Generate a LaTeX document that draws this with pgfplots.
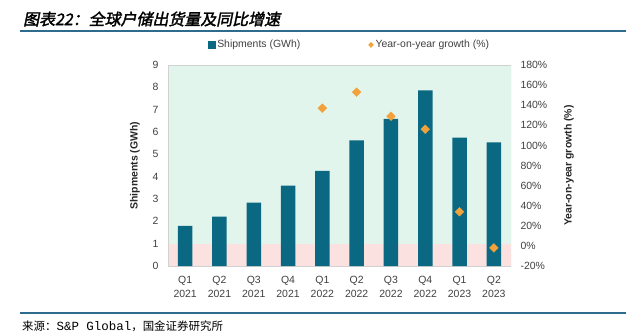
\documentclass[border=0pt]{standalone}
\usepackage{pgfplots}
\pgfplotsset{compat=1.18}
\usepackage{fontspec}
\setmainfont{Liberation Sans}
\newfontfamily\cjktitle[FakeSlant=0.2,FakeBold=2]{Noto Sans CJK SC}
\newfontfamily\cjk{Noto Sans CJK SC}
\newfontfamily\mono{Liberation Mono}
\definecolor{bar}{HTML}{0B6882}
\definecolor{dia}{HTML}{F2A23C}
\definecolor{bggreen}{HTML}{E2F5EC}
\definecolor{bgpink}{HTML}{FCE1E1}
\definecolor{rule}{HTML}{2F6A8F}
\definecolor{tick}{HTML}{404040}
\pgfplotstableread{
x ship
0 1.80
1 2.21
2 2.84
3 3.60
4 4.26
5 5.63
6 6.59
7 7.86
8 5.75
9 5.54
}\shiptable
\pgfplotstableread{
x yoy
4 137
5 153
6 129
7 116
8 34
9 -2
}\yoytable
\begin{document}
\begin{tikzpicture}[x=1bp,y=1bp]
\useasboundingbox (0,0) rectangle (626,335);
\node[anchor=west,inner sep=0] at (23,316) {\fontsize{16}{18}\selectfont\cjktitle 图表22：全球户储出货量及同比增速};
\draw[rule,line width=1.6bp] (20,304) -- (626,304);
\draw[rule,line width=1.6bp] (20,22) -- (626,22);
\node[anchor=west,inner sep=0] at (22,9) {\fontsize{11.5}{13}\selectfont\cjk 来源：{\mono\fontsize{12.5}{13}\selectfont S\&P Global}，国金证券研究所};
\begin{axis}[
  at={(168bp,69bp)}, anchor=south west,
  width=343bp, height=201bp, scale only axis,
  xmin=-0.5, xmax=9.5, ymin=0, ymax=9,
  axis y line*=left, axis x line*=bottom,
  axis line style={draw=none},
  xtick=data,
  xticklabels={{Q1\\2021},{Q2\\2021},{Q3\\2021},{Q4\\2021},{Q1\\2022},{Q2\\2022},{Q3\\2022},{Q4\\2022},{Q1\\2023},{Q2\\2023}},
  xticklabel style={align=center,font=\fontsize{10.5}{14}\selectfont,text=tick,yshift=-7bp},
  ytick={0,1,...,9},
  yticklabel style={font=\fontsize{10.5}{12}\selectfont,text=tick,xshift=-6bp},
  /pgf/number format/assume math mode=true,
  major tick length=0,
  ylabel={\bfseries Shipments (GWh)},
  ylabel style={font=\fontsize{10.5}{12}\selectfont,text=black!85},
  ylabel shift=6bp,
  bar width=14.5bp,
]
\fill[bggreen] (axis cs:-0.5,1) rectangle (axis cs:9.5,9);
\fill[bgpink] (axis cs:-0.5,0) rectangle (axis cs:9.5,1);
\draw[gray!35] (axis cs:-0.5,0) rectangle (axis cs:9.5,9);
\addplot[ybar, fill=bar, draw=none] table[x=x,y=ship] {\shiptable};
\end{axis}
\begin{axis}[
  at={(168bp,69bp)}, anchor=south west,
  width=343bp, height=201bp, scale only axis,
  xmin=-0.5, xmax=9.5, ymin=-20, ymax=180,
  axis y line*=right, axis x line=none,
  axis line style={draw=none},
  ytick={-20,0,...,180},
  yticklabel={\pgfmathprintnumber{\tick}\%},
  yticklabel style={font=\fontsize{10.5}{12}\selectfont,text=tick,xshift=6bp},
  /pgf/number format/assume math mode=true,
  major tick length=0,
  ylabel={\bfseries Year-on-year growth (\%)},
  ylabel style={font=\fontsize{10.5}{12}\selectfont,text=black!85},
  ylabel shift=10bp,
  legend columns=2,
  legend style={at={(0.53,1.1)},anchor=center,draw=none,fill=none,
    font=\fontsize{10.5}{12}\selectfont,text=tick,
    /tikz/every even column/.append style={column sep=66bp}},
  legend image code/.code={},
]
\addlegendimage{legend image code/.code={\fill[bar] (-3.2bp,-3.2bp) rectangle (3.2bp,3.2bp);}}
\addlegendentry{Shipments (GWh)}
\addplot[only marks, mark=square*, mark size=3.1bp, mark options={fill=dia,draw=dia,rotate=45},
  legend image code/.code={\fill[dia] (0,-2.6bp) -- (2.4bp,0) -- (0,2.6bp) -- (-2.4bp,0) -- cycle;}]
  table[x=x,y=yoy] {\yoytable};
\addlegendentry{Year-on-year growth (\%)}
\end{axis}
\end{tikzpicture}
\end{document}
